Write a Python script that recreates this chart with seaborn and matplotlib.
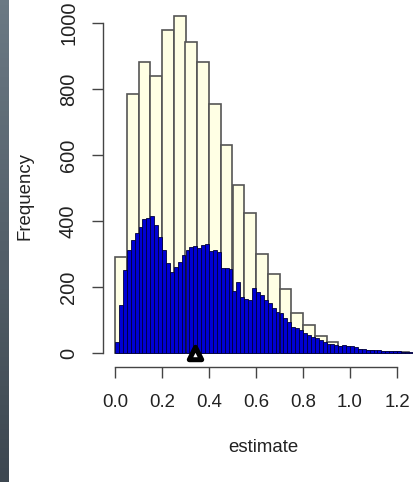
import numpy as np
import pandas as pd
import matplotlib
matplotlib.use("Agg")
import matplotlib.pyplot as plt
from matplotlib.colors import LinearSegmentedColormap
import seaborn as sns

# ── Data ──────────────────────────────────────────────────────────────────────
# wide bins (0.05) – light yellow histogram
wide_edges  = [round(0.05 * i, 4) for i in range(26)]
wide_counts = [290, 785, 882, 839, 979, 1021, 941, 882, 754, 629,
               508, 425, 300, 239, 194, 122, 85, 52, 34, 19,
               10, 7, 4, 3, 2]

# narrow bins (0.05 / 3) – blue histogram
narrow_edges  = [i / 60 for i in range(77)]
narrow_counts = [34, 145, 251, 312, 342, 363, 383, 405, 408, 415,
                 388, 352, 312, 272, 246, 261, 277, 297, 312, 320,
                 324, 317, 327, 330, 310, 312, 307, 257, 257, 255,
                 189, 216, 170, 165, 162, 196, 186, 176, 161, 151,
                 135, 125, 120, 105, 95, 80, 75, 70, 62, 55,
                 49, 44, 39, 34, 27, 28, 25, 22, 24, 22,
                 20, 19, 12, 11, 10, 10, 9, 9, 7, 6,
                 6, 5, 5, 4, 3, 3]

point_x = [0.34]
point_y = [0]

x_ticks = [0.0, 0.2, 0.4, 0.6, 0.8, 1.0, 1.2]
y_ticks = [0, 200, 400, 600, 800, 1000]

# ── Style ─────────────────────────────────────────────────────────────────────
sns.set_style("ticks")
plt.rcParams['font.family'] = ['Liberation Sans', 'DejaVu Sans']

W, H = 413, 482
fig = plt.figure(figsize=(W / 100, H / 100), dpi=100)

# grey strip on the left edge
strip = fig.add_axes([0, 0, 9 / W, 1])
cmap = LinearSegmentedColormap.from_list("strip", ["#6b7984", "#3d4750"])
strip.imshow(np.linspace(0, 1, 100).reshape(-1, 1), aspect="auto", cmap=cmap)
strip.axis("off")

ax = fig.add_axes([103 / W, 1 - 366.7 / H, 310 / W, 366.7 / H])

wide = pd.DataFrame({
    "x": [(a + b) / 2 for a, b in zip(wide_edges[:-1], wide_edges[1:])],
    "n": wide_counts,
})
narrow = pd.DataFrame({
    "x": [(a + b) / 2 for a, b in zip(narrow_edges[:-1], narrow_edges[1:])],
    "n": narrow_counts,
})

sns.histplot(data=wide, x="x", weights="n", bins=wide_edges, ax=ax,
             color="#ffffe4", edgecolor="#555555", linewidth=1.2, alpha=1)
sns.histplot(data=narrow, x="x", weights="n", bins=narrow_edges, ax=ax,
             color="#0000d4", edgecolor="#00003a", linewidth=0.6, alpha=1)
sns.scatterplot(x=point_x, y=point_y, ax=ax, marker="^", s=80,
                facecolor="white", edgecolor="black", linewidth=3.6, zorder=5,
                clip_on=False)

ax.set_xlim((103 - 115) / 235, (413 - 115) / 235)
ax.set_ylim(-(366.7 - 353) / 0.33, 353 / 0.33)

for side in ("top", "right"):
    ax.spines[side].set_visible(False)
ax.spines["left"].set_bounds(0, 1000)
ax.spines["bottom"].set_bounds(0, 1.2)
for side in ("left", "bottom"):
    ax.spines[side].set_color("#444444")
    ax.spines[side].set_linewidth(1.0)

ax.set_xticks(x_ticks)
ax.set_xticklabels([f"{v:.1f}" for v in x_ticks])
ax.set_yticks(y_ticks)
ax.set_yticklabels([str(v) for v in y_ticks], rotation=90, va="center")
ax.tick_params(axis="both", length=8, width=1.0, color="#444444",
               labelsize=13.4, labelcolor="#222222")
ax.tick_params(axis="y", labelsize=14.4, pad=10)
ax.tick_params(axis="x", pad=12)

ax.set_xlabel("")
ax.set_ylabel("")
fig.text(263 / W, 1 - 448 / H, "estimate", ha="center", va="center",
         fontsize=13.4, color="#222222")
fig.text(25 / W, 1 - 196 / H, "Frequency", ha="center", va="center",
         rotation=90, fontsize=13.4, color="#222222")

fig.savefig("out.png", dpi=100)
plt.close()
